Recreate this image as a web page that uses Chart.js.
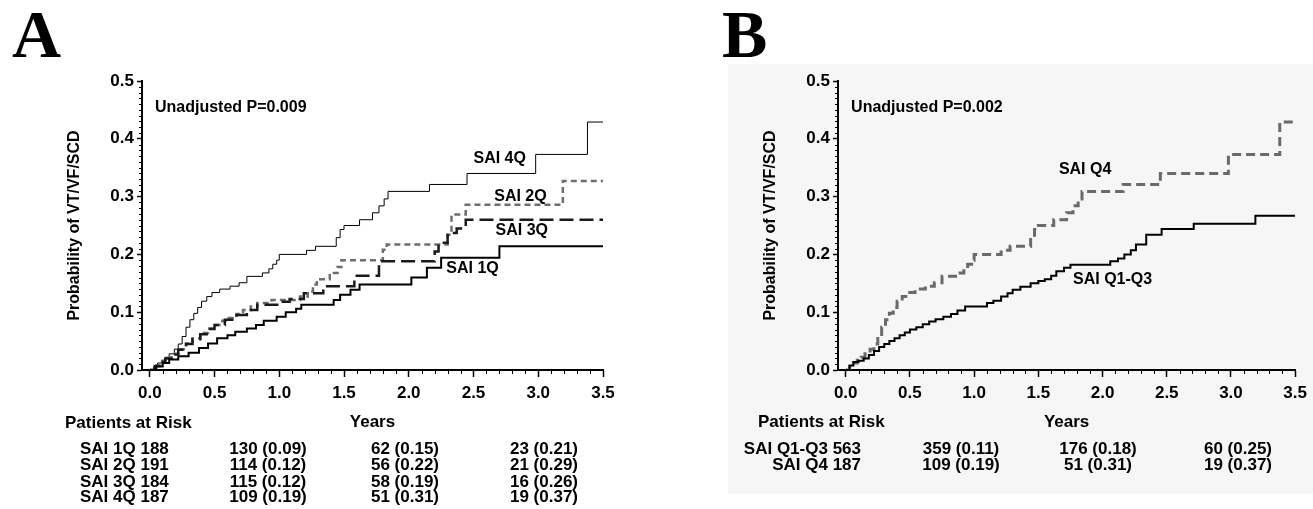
<!DOCTYPE html>
<html>
<head>
<meta charset="utf-8">
<script src="https://cdn.jsdelivr.net/npm/chart.js@4.4.1/dist/chart.umd.min.js"></script>
<style>
  html, body { margin: 0; padding: 0; background: #fff; }
  body { width: 1313px; height: 509px; position: relative; overflow: hidden;
         font-family: 'Liberation Sans', Arial, sans-serif; font-weight: bold; color: #000; }
  .panel-bg { position: absolute; left: 728px; top: 64px; width: 585px; height: 430px; background: #f6f6f6; }
  canvas { position: absolute; top: 0; }
  #chartA { left: 0; }
  #chartB { left: 690px; }
  .letter { position: absolute; top: 0; font-family: 'Liberation Serif', 'DejaVu Serif', serif;
            font-weight: bold; font-size: 68px; line-height: 68px; }
  .cell { position: absolute; font-size: 17px; line-height: 18px; height: 18px; white-space: nowrap; }
</style>
</head>
<body>
<div class="panel-bg"></div>
<div class="letter" style="left:12px">A</div>
<div class="letter" style="left:722px">B</div>
<canvas id="chartA" width="660" height="509"></canvas>
<canvas id="chartB" width="623" height="509"></canvas>
<script>
// tick values (years / probability)
const xTicks = [0, 0.5, 1, 1.5, 2, 2.5, 3, 3.5];
const yTicks = [0, 0.1, 0.2, 0.3, 0.4, 0.5];

// cumulative incidence, step curves
const q4Time = [0, 0.03, 0.06, 0.09, 0.12, 0.15, 0.19, 0.22, 0.25, 0.28, 0.31, 0.34, 0.37, 0.40, 0.44, 0.48, 0.54, 0.62, 0.69, 0.75,
                0.87, 0.92, 0.95, 0.98, 1.00, 1.21, 1.28, 1.44, 1.47, 1.50, 1.62, 1.72, 1.77, 1.81, 1.84, 2.16, 2.45, 2.98, 3.38, 3.5];
const q4Prob = [0, 0.006, 0.012, 0.017, 0.022, 0.028, 0.036, 0.045, 0.058, 0.074, 0.087, 0.098, 0.108, 0.119, 0.127, 0.134, 0.14, 0.145, 0.151, 0.162,
                0.168, 0.175, 0.183, 0.19, 0.2, 0.207, 0.214, 0.229, 0.243, 0.25, 0.26, 0.272, 0.284, 0.296, 0.309, 0.321, 0.34, 0.373, 0.429, 0.429];

const q2Time = [0, 0.04, 0.08, 0.12, 0.17, 0.22, 0.28, 0.33, 0.39, 0.45, 0.5, 0.56, 0.61, 0.67, 0.72, 0.78, 0.83, 0.94, 1.16, 1.22,
                1.26, 1.29, 1.39, 1.45, 1.48, 1.80, 1.83, 2.30, 2.33, 2.44, 3.19, 3.5];
const q2Prob = [0, 0.008, 0.015, 0.021, 0.028, 0.036, 0.046, 0.055, 0.064, 0.072, 0.078, 0.085, 0.09, 0.097, 0.104, 0.11, 0.116, 0.121, 0.127, 0.136,
                0.148, 0.157, 0.168, 0.178, 0.19, 0.208, 0.217, 0.234, 0.269, 0.286, 0.327, 0.327];

const q3Time = [0, 0.04, 0.08, 0.12, 0.17, 0.22, 0.28, 0.33, 0.39, 0.45, 0.5, 0.58, 0.67, 0.75, 0.83, 1.0, 1.08, 1.19, 1.34, 1.58,
                1.77, 2.20, 2.23, 2.30, 2.37, 2.44, 3.5];
const q3Prob = [0, 0.007, 0.014, 0.02, 0.027, 0.035, 0.045, 0.053, 0.062, 0.071, 0.078, 0.087, 0.095, 0.104, 0.113, 0.118, 0.123, 0.133, 0.145, 0.163,
                0.188, 0.205, 0.22, 0.237, 0.245, 0.26, 0.26];

const q1Time = [0, 0.05, 0.1, 0.15, 0.22, 0.3, 0.38, 0.45, 0.52, 0.6, 0.66, 0.75, 0.82, 0.88, 0.98, 1.05, 1.13, 1.17, 1.42, 1.47,
                1.55, 1.62, 2.02, 2.14, 2.25, 2.70, 3.5];
const q1Prob = [0, 0.006, 0.012, 0.018, 0.024, 0.03, 0.038, 0.046, 0.055, 0.06, 0.066, 0.072, 0.078, 0.085, 0.092, 0.1, 0.106, 0.113, 0.121, 0.13,
                0.139, 0.148, 0.16, 0.177, 0.194, 0.214, 0.214];

const q13Time = [0, 0.03, 0.06, 0.1, 0.14, 0.18, 0.22, 0.26, 0.3, 0.34, 0.38, 0.42, 0.46, 0.5, 0.55, 0.6, 0.65, 0.7, 0.76, 0.82,
                 0.87, 0.93, 1.1, 1.15, 1.21, 1.26, 1.3, 1.36, 1.44, 1.5, 1.55, 1.6, 1.64, 1.7, 1.75, 2.06, 2.12, 2.17, 2.22, 2.26,
                 2.34, 2.46, 2.71, 3.19, 3.5];
const q13Prob = [0, 0.008, 0.014, 0.016, 0.02, 0.026, 0.033, 0.04, 0.045, 0.05, 0.055, 0.06, 0.065, 0.07, 0.074, 0.079, 0.084, 0.088, 0.092, 0.097,
                 0.103, 0.11, 0.116, 0.12, 0.127, 0.133, 0.139, 0.144, 0.15, 0.154, 0.157, 0.163, 0.171, 0.177, 0.182, 0.188, 0.193, 0.2, 0.207, 0.217,
                 0.234, 0.244, 0.253, 0.267, 0.267];

// patients at risk tables (baseline, 1y, 2y, 3y) and cumulative incidence at 1y, 2y, 3y
const groupsA = ['SAI 1Q', 'SAI 2Q', 'SAI 3Q', 'SAI 4Q'];
const riskA = [[188, 130, 62, 23], [191, 114, 56, 21], [184, 115, 58, 16], [187, 109, 51, 19]];
const cumA = [[0.09, 0.15, 0.21], [0.12, 0.22, 0.29], [0.12, 0.19, 0.26], [0.19, 0.31, 0.37]];
const groupsB = ['SAI Q1-Q3', 'SAI Q4'];
const riskB = [[563, 359, 176, 60], [187, 109, 51, 19]];
const cumB = [[0.11, 0.18, 0.25], [0.19, 0.31, 0.37]];

const FONT = "'Liberation Sans', Arial, sans-serif";
const pts = (t, p) => t.map((v, i) => ({ x: v, y: p[i] }));

const minorTicks = {
    id: 'minorTicks',
    afterDraw(chart) {
        const { ctx, scales: { x, y } } = chart;
        ctx.save();
        ctx.strokeStyle = '#000';
        ctx.lineWidth = 1;
        ctx.beginPath();
        for (let i = 1; i < 35; i++) {
            if (i % 5 === 0) continue;
            const px = Math.round(x.getPixelForValue(i / 10)) + 0.5;
            ctx.moveTo(px, y.bottom);
            ctx.lineTo(px, y.bottom + 4);
        }
        for (let i = 1; i < 50; i++) {
            if (i % 10 === 0) continue;
            const py = Math.round(y.getPixelForValue(i / 100)) + 0.5;
            ctx.moveTo(x.left, py);
            ctx.lineTo(x.left - 3, py);
        }
        ctx.stroke();
        ctx.restore();
    }
};

const notesPlugin = (items) => ({
    id: 'notes',
    afterDatasetsDraw(chart) {
        const { ctx, scales: { x, y } } = chart;
        ctx.save();
        ctx.font = 'bold 16px ' + FONT;
        ctx.fillStyle = '#000';
        ctx.textBaseline = 'middle';
        ctx.textAlign = 'left';
        items.forEach(n => ctx.fillText(n.text, x.getPixelForValue(n.x), y.getPixelForValue(n.y)));
        ctx.restore();
    }
});

function makeChart(id, datasets, cfg) {
    const tickFont = { family: FONT, size: 17, weight: 'bold' };
    const titleFont = { family: FONT, size: 16, weight: 'bold' };
    return new Chart(document.getElementById(id), {
        type: 'line',
        data: { datasets },
        options: {
            responsive: false,
            animation: false,
            devicePixelRatio: 1,
            layout: { padding: cfg.padding },
            plugins: { legend: { display: false }, tooltip: { enabled: false } },
            elements: { point: { radius: 0 } },
            scales: {
                x: {
                    type: 'linear', min: -0.06, max: 3.5,
                    afterBuildTicks: s => { s.ticks = xTicks.map(v => ({ value: v })); },
                    afterFit: s => { s.height = 63; },
                    ticks: { font: tickFont, color: '#000', padding: 6, maxRotation: 0, autoSkip: false,
                             callback: v => v.toFixed(1) },
                    grid: { drawOnChartArea: false, drawTicks: true, tickLength: 7, tickColor: '#000', tickWidth: 1.5 },
                    border: { display: true, color: '#000', width: 2 },
                    title: { display: true, text: 'Years', font: { family: FONT, size: 17, weight: 'bold' }, color: '#000',
                             padding: { top: 0, bottom: 0 } }
                },
                y: {
                    type: 'linear', min: 0, max: 0.5,
                    afterBuildTicks: s => { s.ticks = yTicks.map(v => ({ value: v })); },
                    afterFit: s => { s.width = cfg.yWidth; },
                    ticks: { font: tickFont, color: '#000', padding: 3, autoSkip: false,
                             callback: v => v.toFixed(1) },
                    grid: { drawOnChartArea: false, drawTicks: true, tickLength: 5, tickColor: '#000', tickWidth: 1.5 },
                    border: { display: true, color: '#000', width: 2 },
                    title: { display: true, text: 'Probability of VT/VF/SCD', font: titleFont, color: '#000',
                             padding: { top: cfg.titlePad, bottom: 0 } }
                }
            }
        },
        plugins: [minorTicks, notesPlugin(cfg.notes)]
    });
}

const line = (data, color, width, dash) => ({
    data, borderColor: color, borderWidth: width, borderDash: dash || [],
    stepped: true, fill: false, pointRadius: 0, borderCapStyle: 'butt'
});

makeChart('chartA', [
    line(pts(q1Time, q1Prob), '#000', 2),
    line(pts(q3Time, q3Prob), '#1a1a1a', 2.5, [14, 6]),
    line(pts(q2Time, q2Prob), '#6e6e6e', 2.5, [6, 4]),
    line(pts(q4Time, q4Prob), '#000', 1)
], {
    padding: { top: 81, left: 0, right: 57, bottom: 76 },
    yWidth: 142, titlePad: 65,
    notes: [
        { text: 'Unadjusted P=0.009', x: 0.04, y: 0.454 },
        { text: 'SAI 4Q', x: 2.50, y: 0.365 },
        { text: 'SAI 2Q', x: 2.66, y: 0.300 },
        { text: 'SAI 3Q', x: 2.67, y: 0.241 },
        { text: 'SAI 1Q', x: 2.29, y: 0.175 }
    ]
});

makeChart('chartB', [
    line(pts(q13Time, q13Prob), '#000', 2),
    line(pts(q4Time, q4Prob), '#6a6a6a', 3, [9, 5])
], {
    padding: { top: 81, left: 0, right: 17, bottom: 76 },
    yWidth: 148, titlePad: 71,
    notes: [
        { text: 'Unadjusted P=0.002', x: 0.042, y: 0.454 },
        { text: 'SAI Q4', x: 1.66, y: 0.347 },
        { text: 'SAI Q1-Q3', x: 1.77, y: 0.157 }
    ]
});

// patients at risk tables as real text
function cell(text, x, y, align) {
    const d = document.createElement('div');
    d.className = 'cell';
    d.textContent = text;
    d.style.left = x + 'px';
    d.style.top = (y - 9) + 'px';
    if (align === 'center') d.style.transform = 'translateX(-50%)';
    if (align === 'right') d.style.transform = 'translateX(-100%)';
    document.body.appendChild(d);
}
const fmt = (n, c) => n + ' (' + c.toFixed(2) + ')';

cell('Patients at Risk', 65, 423, 'left');
const rowYA = [449, 465, 482, 497];
const colXA = [268, 405, 544];
groupsA.forEach((g, i) => {
    cell(g + ' ' + riskA[i][0], 80, rowYA[i], 'left');
    colXA.forEach((cx, j) => cell(fmt(riskA[i][j + 1], cumA[i][j]), cx, rowYA[i], 'center'));
});

cell('Patients at Risk', 758, 422, 'left');
const rowYB = [449, 465];
const colXB = [961, 1098, 1238];
groupsB.forEach((g, i) => {
    cell(g + ' ' + riskB[i][0], 861, rowYB[i], 'right');
    colXB.forEach((cx, j) => cell(fmt(riskB[i][j + 1], cumB[i][j]), cx, rowYB[i], 'center'));
});
</script>
</body>
</html>
